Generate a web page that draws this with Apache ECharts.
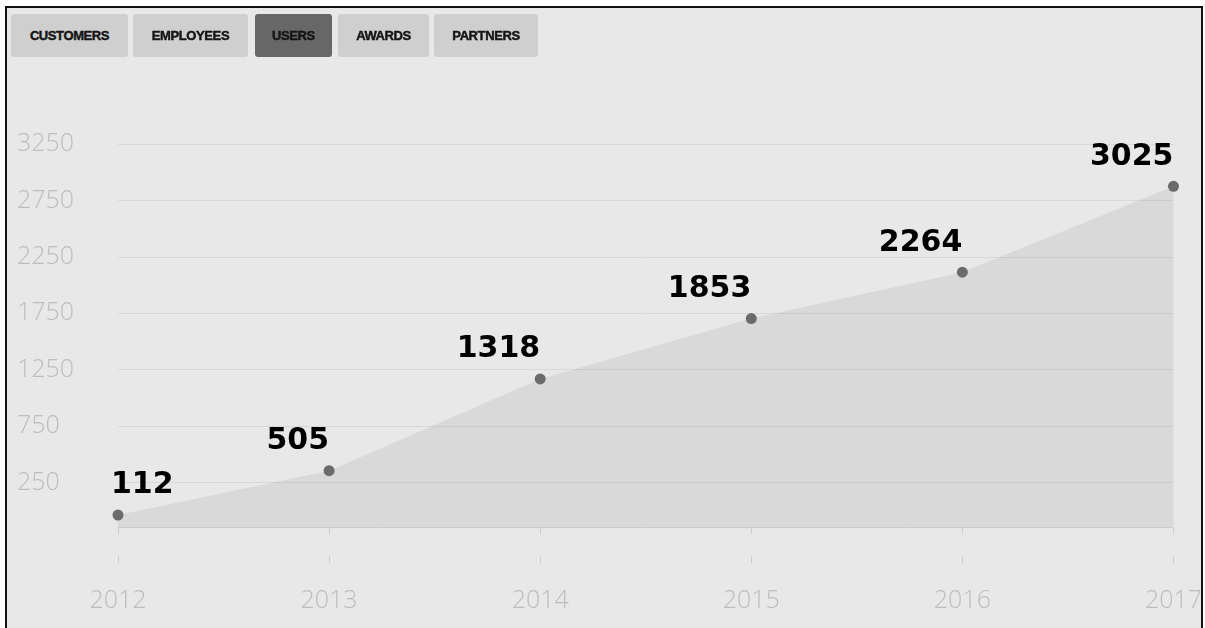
<!DOCTYPE html>
<html>
<head>
<meta charset="utf-8">
<title>Users</title>
<script src="https://cdn.jsdelivr.net/npm/echarts@6/dist/echarts.min.js"></script>
<style>
    html, body { margin: 0; padding: 0; background: #fff; }
    body { width: 1205px; height: 628px; position: relative; overflow: hidden; }
    .frame { position: absolute; left: 5px; top: 6px; width: 1198px; height: 640px; box-sizing: border-box; background: #e8e8e8; }
    .frame-border { position: absolute; left: 5px; top: 6px; width: 1198px; height: 640px; box-sizing: border-box; border: 2px solid #111; border-bottom: none; pointer-events: none; z-index: 5; }
    #chart { position: absolute; left: 0; top: 0; width: 1205px; height: 628px; clip-path: inset(8px 5px 0 7px); }
    .tabs { position: absolute; left: 0; top: 0; z-index: 3; }
    .tab { position: absolute; top: 14px; height: 43px; border-radius: 3px; background: #cfcfcf; color: #151515;
        font-family: "Liberation Sans", Arial, sans-serif; font-weight: bold; font-size: 13px; letter-spacing: -0.4px;
        -webkit-text-stroke: 0.45px #151515;
        display: flex; align-items: center; justify-content: center; }
    .tab.active { background: #676767; }
</style>
</head>
<body>
<div class="frame"></div>
<div class="tabs" id="tabs"></div>
<div id="chart"></div>
<div class="frame-border"></div>
<script>
// tabs: name + x range in px
var tabNames = ['CUSTOMERS', 'EMPLOYEES', 'USERS', 'AWARDS', 'PARTNERS'];
var tabLeft = [11, 133, 255, 338, 434];
var tabRight = [128, 248, 332, 429, 538];
var activeTab = 'USERS';

// chart data
var years = ['2012', '2013', '2014', '2015', '2016', '2017'];
var users = [112, 505, 1318, 1853, 2264, 3025];
// y tick labels as printed, one per grid line from bottom up
var yTickLabels = ['250', '750', '1250', '1750', '2250', '2750', '3250'];

var tabsEl = document.getElementById('tabs');
tabNames.forEach(function (name, i) {
    var d = document.createElement('div');
    d.className = 'tab' + (name === activeTab ? ' active' : '');
    d.style.left = tabLeft[i] + 'px';
    d.style.width = (tabRight[i] - tabLeft[i]) + 'px';
    d.textContent = name;
    tabsEl.appendChild(d);
});

var axisFont = {
    color: '#bdbdbd',
    fontSize: 25,
    fontFamily: '"Open Sans", Roboto, sans-serif',
    fontWeight: 300
};

var myChart = echarts.init(document.getElementById('chart'), null, { renderer: 'canvas' });

var options = {
    animation: false,
    grid: { left: 118, right: 29, top: 144, bottom: 89 },
    xAxis: [{
        type: 'category',
        data: years,
        boundaryGap: false,
        offset: 24,
        axisLine: { lineStyle: { color: '#d6d6d6', width: 1 } },
        axisTick: { length: 6, lineStyle: { color: '#cccccc' } },
        axisLabel: Object.assign({ margin: 25 }, axisFont),
        splitLine: { show: false }
    }, {
        // second axis only for the upper half of the ticks
        type: 'category',
        data: years,
        boundaryGap: false,
        position: 'bottom',
        offset: 24,
        axisLine: { show: false },
        axisTick: { inside: true, length: 7, lineStyle: { color: '#cccccc' } },
        axisLabel: { show: false },
        splitLine: { show: false }
    }],
    yAxis: {
        type: 'value',
        min: -100,
        max: 3400,
        interval: 500,
        axisLine: { show: false },
        axisTick: { show: false },
        splitLine: { showMinLine: false, lineStyle: { color: '#d8d8d8', width: 1 } },
        axisLabel: Object.assign({
            showMinLabel: false,
            align: 'left',
            margin: 101,
            formatter: function (v) {
                var k = Math.round((v - 400) / 500);
                return yTickLabels[k] || '';
            }
        }, axisFont)
    },
    series: [{
        type: 'line',
        data: users.map(function (v, i) {
            if (i === 0) {
                return { value: v, label: { align: 'left', offset: [-7, 0] } };
            }
            return v;
        }),
        symbol: 'circle',
        symbolSize: 11,
        itemStyle: { color: '#6b6b6b' },
        lineStyle: { width: 0 },
        areaStyle: { color: 'rgba(0,0,0,0.09)' },
        label: {
            show: true,
            position: 'top',
            align: 'right',
            distance: 9,
            color: '#000',
            fontSize: 30,
            fontWeight: 'bold',
            fontFamily: '"DejaVu Sans", sans-serif'
        }
    }]
};

myChart.setOption(options);
</script>
</body>
</html>
